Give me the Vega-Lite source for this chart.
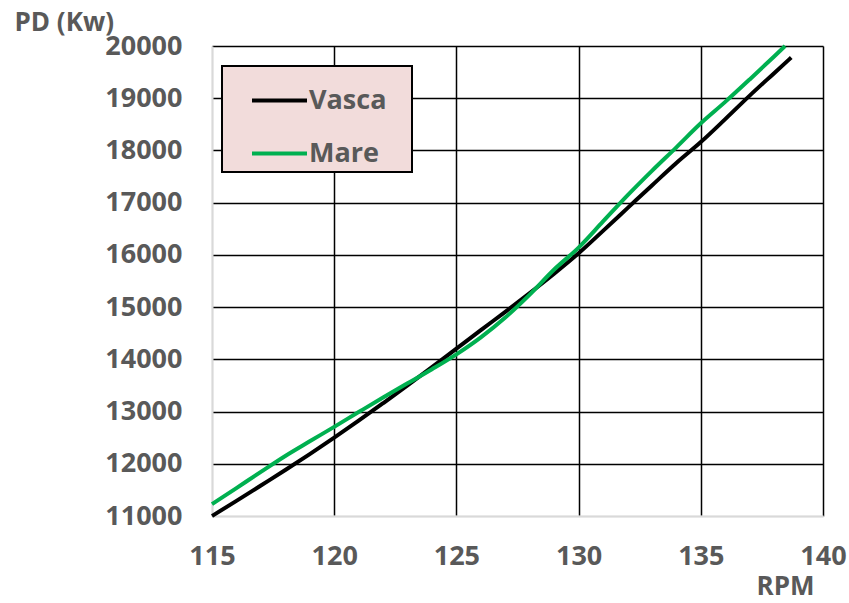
{
  "$schema": "https://vega.github.io/schema/vega-lite/v6.json",
  "width": 611,
  "height": 470,
  "autosize": "none",
  "padding": {"left": 212, "top": 46, "right": 26, "bottom": 87},
  "background": "white",
  "config": {"view": {"stroke": null}, "font": "Open Sans", "legend": {"strokeWidth": 2}},
  "data": {
    "values": [
      {"rpm": 115, "pd": 11000, "series": "Vasca"},
      {"rpm": 116, "pd": 11290, "series": "Vasca"},
      {"rpm": 117, "pd": 11585, "series": "Vasca"},
      {"rpm": 118, "pd": 11880, "series": "Vasca"},
      {"rpm": 119, "pd": 12185, "series": "Vasca"},
      {"rpm": 120, "pd": 12500, "series": "Vasca"},
      {"rpm": 121, "pd": 12825, "series": "Vasca"},
      {"rpm": 122, "pd": 13160, "series": "Vasca"},
      {"rpm": 123, "pd": 13500, "series": "Vasca"},
      {"rpm": 124, "pd": 13850, "series": "Vasca"},
      {"rpm": 125, "pd": 14205, "series": "Vasca"},
      {"rpm": 126, "pd": 14560, "series": "Vasca"},
      {"rpm": 127, "pd": 14910, "series": "Vasca"},
      {"rpm": 128, "pd": 15270, "series": "Vasca"},
      {"rpm": 129, "pd": 15640, "series": "Vasca"},
      {"rpm": 130, "pd": 16030, "series": "Vasca"},
      {"rpm": 131, "pd": 16460, "series": "Vasca"},
      {"rpm": 132, "pd": 16895, "series": "Vasca"},
      {"rpm": 133, "pd": 17330, "series": "Vasca"},
      {"rpm": 134, "pd": 17760, "series": "Vasca"},
      {"rpm": 135, "pd": 18160, "series": "Vasca"},
      {"rpm": 136, "pd": 18600, "series": "Vasca"},
      {"rpm": 137, "pd": 19050, "series": "Vasca"},
      {"rpm": 138, "pd": 19480, "series": "Vasca"},
      {"rpm": 138.7, "pd": 19780, "series": "Vasca"},
      {"rpm": 115, "pd": 11226, "series": "Mare"},
      {"rpm": 116, "pd": 11535, "series": "Mare"},
      {"rpm": 117, "pd": 11845, "series": "Mare"},
      {"rpm": 118, "pd": 12150, "series": "Mare"},
      {"rpm": 119, "pd": 12430, "series": "Mare"},
      {"rpm": 120, "pd": 12707, "series": "Mare"},
      {"rpm": 121, "pd": 12990, "series": "Mare"},
      {"rpm": 122, "pd": 13270, "series": "Mare"},
      {"rpm": 123, "pd": 13540, "series": "Mare"},
      {"rpm": 124, "pd": 13810, "series": "Mare"},
      {"rpm": 125, "pd": 14095, "series": "Mare"},
      {"rpm": 126, "pd": 14420, "series": "Mare"},
      {"rpm": 127, "pd": 14800, "series": "Mare"},
      {"rpm": 128, "pd": 15240, "series": "Mare"},
      {"rpm": 129, "pd": 15720, "series": "Mare"},
      {"rpm": 130, "pd": 16140, "series": "Mare"},
      {"rpm": 131, "pd": 16640, "series": "Mare"},
      {"rpm": 132, "pd": 17140, "series": "Mare"},
      {"rpm": 133, "pd": 17610, "series": "Mare"},
      {"rpm": 134, "pd": 18060, "series": "Mare"},
      {"rpm": 135, "pd": 18520, "series": "Mare"},
      {"rpm": 136, "pd": 18930, "series": "Mare"},
      {"rpm": 137, "pd": 19360, "series": "Mare"},
      {"rpm": 138, "pd": 19800, "series": "Mare"},
      {"rpm": 138.45, "pd": 20000, "series": "Mare"}
    ]
  },
  "mark": {"type": "line", "strokeWidth": 4, "interpolate": "monotone"},
  "encoding": {
    "x": {
      "field": "rpm",
      "type": "quantitative",
      "scale": {"domain": [115, 140], "nice": false, "zero": false},
      "axis": {
        "values": [115, 120, 125, 130, 135, 140],
        "title": "RPM",
        "grid": true,
        "gridColor": {"condition": {"test": "datum.value == 115", "value": "#d9d9d9"}, "value": "#000000"},
        "gridWidth": 1.5,
        "gridOpacity": 1,
        "domainColor": "#d9d9d9",
        "domainWidth": 2,
        "ticks": false,
        "labelFlush": false,
        "labelFont": "Open Sans",
        "labelFontSize": 27,
        "labelFontWeight": "bold",
        "labelColor": "#595959",
        "labelPadding": 27,
        "titleFont": "Open Sans",
        "titleFontSize": 26,
        "titleFontWeight": "bold",
        "titleColor": "#595959",
        "titleX": 573,
        "titleY": 78,
        "titleAlign": "center",
        "titleBaseline": "alphabetic"
      }
    },
    "y": {
      "field": "pd",
      "type": "quantitative",
      "scale": {"domain": [11000, 20000], "nice": false, "zero": false},
      "axis": {
        "values": [11000, 12000, 13000, 14000, 15000, 16000, 17000, 18000, 19000, 20000],
        "format": "d",
        "title": "PD (Kw)",
        "grid": true,
        "gridColor": {"condition": {"test": "datum.value == 11000", "value": "#d9d9d9"}, "value": "#000000"},
        "gridWidth": 1.5,
        "gridOpacity": 1,
        "domainColor": "#d9d9d9",
        "domainWidth": 2,
        "ticks": false,
        "labelFlush": false,
        "labelFont": "Open Sans",
        "labelFontSize": 27,
        "labelFontWeight": "bold",
        "labelColor": "#595959",
        "labelPadding": 30,
        "titleFont": "Open Sans",
        "titleFontSize": 26,
        "titleFontWeight": "bold",
        "titleColor": "#595959",
        "titleAngle": 0,
        "titleX": -198,
        "titleY": -16,
        "titleAlign": "left",
        "titleBaseline": "alphabetic"
      }
    },
    "color": {
      "field": "series",
      "type": "nominal",
      "scale": {"domain": ["Vasca", "Mare"], "range": ["#000000", "#00b050"]},
      "legend": {
        "title": null,
        "orient": "none",
        "legendX": 10,
        "legendY": 20,
        "fillColor": "#f2dcdb",
        "strokeColor": "#000000",
        "padding": 5,
        "symbolType": "stroke",
        "symbolSize": 3025,
        "symbolStrokeWidth": 4,
        "symbolOffset": 23,
        "labelOffset": 0,
        "rowPadding": 10,
        "labelFont": "Open Sans",
        "labelFontSize": 27,
        "labelFontWeight": "bold",
        "labelColor": "#595959",
        "labelExpr": "datum.label + '\u2800'"
      }
    }
  }
}
